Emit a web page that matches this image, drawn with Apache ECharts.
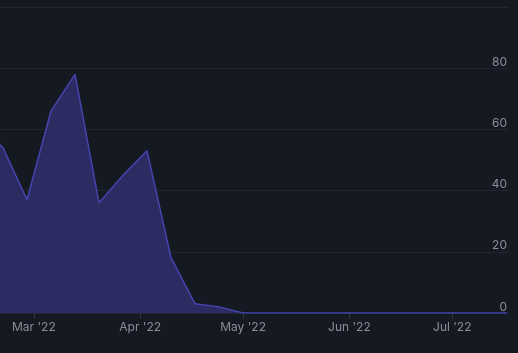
<!DOCTYPE html>
<html>
<head>
<meta charset="utf-8">
<script src="https://cdn.jsdelivr.net/npm/echarts@6/dist/echarts.min.js"></script>
<style>
  html, body { margin: 0; padding: 0; background: #151922; }
  #chart { width: 518px; height: 353px; }
</style>
</head>
<body>
<div id="chart"></div>
<script>
// weekly points, one per Sunday
const weeks = [
  '2022-02-13', '2022-02-20', '2022-02-27', '2022-03-06', '2022-03-13',
  '2022-03-20', '2022-03-27', '2022-04-03', '2022-04-10', '2022-04-17',
  '2022-04-24', '2022-05-01', '2022-05-08', '2022-05-15', '2022-05-22',
  '2022-05-29', '2022-06-05', '2022-06-12', '2022-06-19', '2022-06-26',
  '2022-07-03', '2022-07-10', '2022-07-17'
];
const values = [
  62, 54, 37, 66, 78,
  36, 45, 53, 18, 3,
  2, 0, 0, 0, 0,
  0, 0, 0, 0, 0,
  0, 0, 0
];
const yTicks = [0, 20, 40, 60, 80, 100];
const months = ['Jan', 'Feb', 'Mar', 'Apr', 'May', 'Jun', 'Jul', 'Aug', 'Sep', 'Oct', 'Nov', 'Dec'];

const chart = echarts.init(document.getElementById('chart'));
const labelColor = '#8a8e99';

const option = {
  backgroundColor: '#151922',
  animation: false,
  grid: { left: 0, right: 10, top: 7, bottom: 40 },
  xAxis: {
    type: 'time',
    min: new Date(2022, 1, 19, 3).getTime(),
    max: new Date(2022, 6, 17, 6).getTime(),
    minInterval: 28 * 86400000,
    maxInterval: 31 * 86400000,
    axisLine: { show: false },
    axisTick: { show: true, length: 6, lineStyle: { color: '#30343f' } },
    splitLine: { show: false },
    axisLabel: {
      color: labelColor,
      fontSize: 12,
      fontFamily: 'Inter',
      margin: 8,
      formatter: function (v) {
        const d = new Date(v);
        return months[d.getMonth()] + " '" + String(d.getFullYear()).slice(2);
      }
    }
  },
  yAxis: {
    type: 'value',
    position: 'right',
    min: yTicks[0],
    max: yTicks[yTicks.length - 1],
    interval: 20,
    axisLine: { show: false },
    axisTick: { show: false },
    splitLine: { lineStyle: { color: '#222633', width: 1 } },
    axisLabel: {
      inside: true,
      margin: 1,
      showMaxLabel: false,
      verticalAlign: 'bottom',
      color: labelColor,
      fontSize: 12,
      fontFamily: 'Inter'
    }
  },
  series: [{
    type: 'line',
    data: weeks.map((w, i) => [w, values[i]]),
    symbol: 'none',
    lineStyle: { color: '#4545b0', width: 1.5 },
    areaStyle: { color: '#2c2b62', opacity: 1 }
  }]
};
chart.setOption(option);
</script>
</body>
</html>
